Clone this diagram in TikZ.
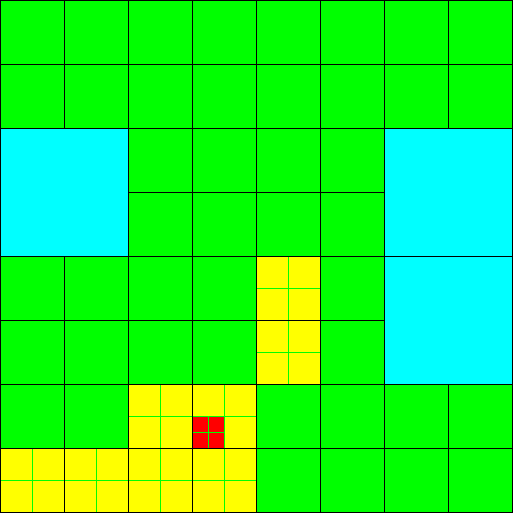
\documentclass[tikz,border=0pt]{standalone}
\usepackage{tikz}

\definecolor{leafgreen}{RGB}{0,255,0}
\definecolor{leafcyan}{RGB}{0,255,255}
\definecolor{leafyellow}{RGB}{255,255,0}
\definecolor{leafred}{RGB}{255,0,0}

\begin{document}
\begin{tikzpicture}[
  x=0.5pt, y=-0.5pt,
  cell/.style={fill=leafgreen, draw=black, line width=0.5pt},
  bigcell/.style={fill=leafcyan, draw=black, line width=0.5pt},
  subcell/.style={fill=leafyellow, draw=leafgreen, line width=0.5pt},
  tinycell/.style={fill=leafred, draw=leafgreen, line width=0.5pt},
  outline/.style={draw=black, line width=0.5pt},
]
  \useasboundingbox (-0.5,-0.5) rectangle (512.5,512.5);

  % large merged blocks
  \draw[bigcell] (0,128) rectangle (128,256);
  \draw[bigcell] (384,128) rectangle (512,256);
  \draw[bigcell] (384,256) rectangle (512,384);

  % plain 64px cells (col/row)
  \foreach \c/\r in {0/0,1/0,2/0,3/0,4/0,5/0,6/0,7/0,
                     0/1,1/1,2/1,3/1,4/1,5/1,6/1,7/1,
                     2/2,3/2,4/2,5/2,
                     2/3,3/3,4/3,5/3,
                     0/4,1/4,2/4,3/4,5/4,
                     0/5,1/5,2/5,3/5,5/5,
                     0/6,1/6,4/6,5/6,6/6,7/6,
                     4/7,5/7,6/7,7/7}
    \draw[cell] (64*\c,64*\r) rectangle ++(64,64);

  % split cells
  \foreach \c/\r in {4/4,4/5,2/6,3/6,0/7,1/7,2/7,3/7} {
    \foreach \i in {0,1}
      \foreach \j in {0,1}
        \draw[subcell] (64*\c+32*\i,64*\r+32*\j) rectangle ++(32,32);
  }

  % finest level
  \foreach \i in {0,1}
    \foreach \j in {0,1}
      \draw[tinycell] (192+16*\i,416+16*\j) rectangle ++(16,16);

  % black borders over split cells
  \foreach \c/\r in {4/4,4/5,2/6,3/6,0/7,1/7,2/7,3/7}
    \draw[outline] (64*\c,64*\r) rectangle ++(64,64);
\end{tikzpicture}
\end{document}
